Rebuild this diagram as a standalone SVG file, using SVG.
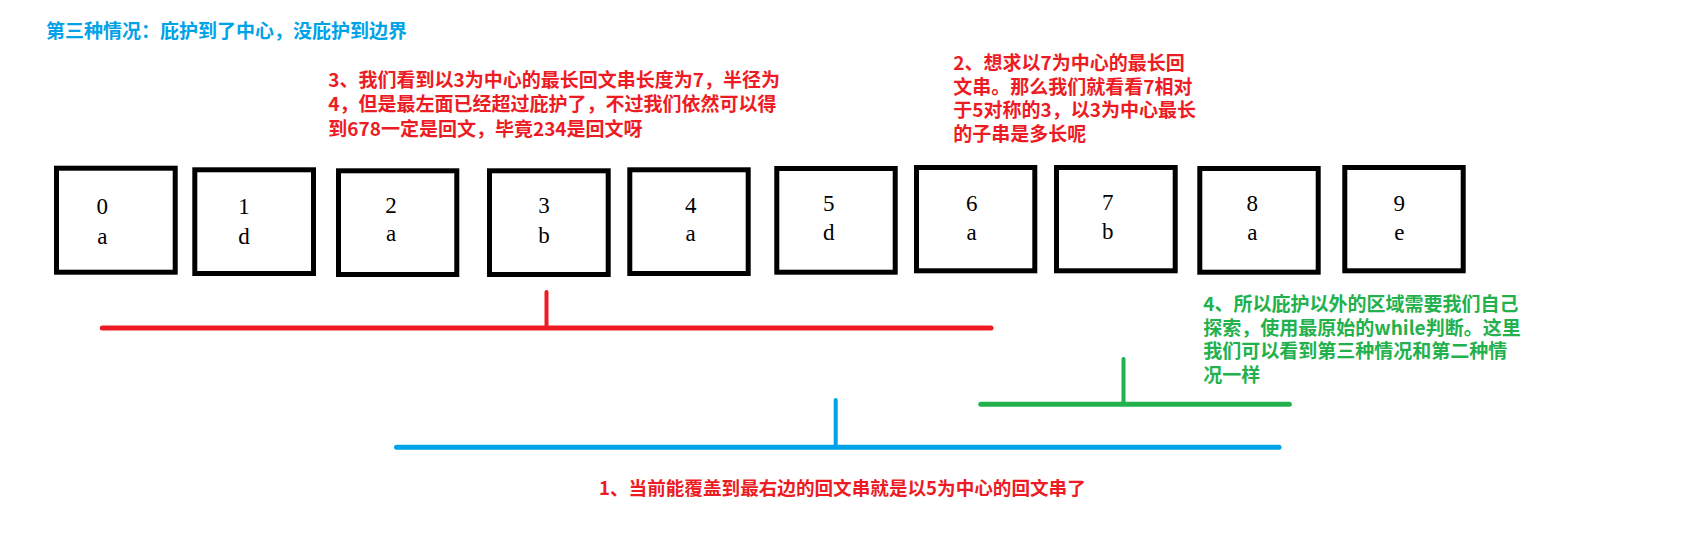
<svg xmlns="http://www.w3.org/2000/svg" width="1699" height="557" viewBox="0 0 1699 557">
<style>
.box{fill:#fff;stroke:#000;stroke-width:5}
.lbl{font-family:"Liberation Serif",serif;font-size:23px;fill:#000;text-anchor:middle}
.cn{font-family:"Noto Sans CJK SC",sans-serif;font-size:19px;font-weight:bold}
.red{fill:#ED1C24}
.blue{fill:#00A2E8}
.green{fill:#22B14C}
.ln{fill:none;stroke-linecap:round}
</style>
<rect width="1699" height="557" fill="#fff"/>
<text class="cn blue" x="46" y="37.5">第三种情况：庇护到了中心，没庇护到边界</text>
<text class="cn red"><tspan x="328.3" y="86.5">3、我们看到以3为中心的最长回文串长度为7，半径为</tspan><tspan x="328.3" y="111">4，但是最左面已经超过庇护了，不过我们依然可以得</tspan><tspan x="328.3" y="135.5">到678一定是回文，毕竟234是回文呀</tspan></text>
<text class="cn red"><tspan x="953.3" y="70">2、想求以7为中心的最长回</tspan><tspan x="953.3" y="93.5">文串。那么我们就看看7相对</tspan><tspan x="953.3" y="117">于5对称的3，以3为中心最长</tspan><tspan x="953.3" y="140.5">的子串是多长呢</tspan></text>
<text class="cn green"><tspan x="1203.3" y="311">4、所以庇护以外的区域需要我们自己</tspan><tspan x="1203.3" y="334.5">探索，使用最原始的while判断。这里</tspan><tspan x="1203.3" y="358">我们可以看到第三种情况和第二种情</tspan><tspan x="1203.3" y="381.5">况一样</tspan></text>
<text class="cn red" x="599" y="495" style="font-size:18.6px">1、当前能覆盖到最右边的回文串就是以5为中心的回文串了</text>
<g id="node0"><rect class="box" x="56.5" y="168.2" width="118.7" height="104"/><text class="lbl" x="102.3" y="214.3">0</text><text class="lbl" x="102.3" y="244.3">a</text></g>
<g id="node1"><rect class="box" x="194.8" y="169.8" width="118.7" height="103.7"/><text class="lbl" x="244" y="214.3">1</text><text class="lbl" x="244" y="243.7">d</text></g>
<g id="node2"><rect class="box" x="338.5" y="170.8" width="118.3" height="103.7"/><text class="lbl" x="391" y="212.7">2</text><text class="lbl" x="391" y="241">a</text></g>
<g id="node3"><rect class="box" x="489.5" y="170.8" width="118.7" height="103.7"/><text class="lbl" x="544" y="213.3">3</text><text class="lbl" x="544" y="243.3">b</text></g>
<g id="node4"><rect class="box" x="629.8" y="169.8" width="118.4" height="103.7"/><text class="lbl" x="690.7" y="212.7">4</text><text class="lbl" x="690.7" y="241">a</text></g>
<g id="node5"><rect class="box" x="776.8" y="168.5" width="118.4" height="103.7"/><text class="lbl" x="828.7" y="211.3">5</text><text class="lbl" x="828.7" y="240">d</text></g>
<g id="node6"><rect class="box" x="916.5" y="167.5" width="118.3" height="103.3"/><text class="lbl" x="971.7" y="211.3">6</text><text class="lbl" x="971.7" y="240">a</text></g>
<g id="node7"><rect class="box" x="1056.5" y="167.5" width="118.7" height="103.3"/><text class="lbl" x="1107.7" y="210">7</text><text class="lbl" x="1107.7" y="239">b</text></g>
<g id="node8"><rect class="box" x="1199.8" y="168.5" width="118.4" height="103.7"/><text class="lbl" x="1252.3" y="211.3">8</text><text class="lbl" x="1252.3" y="240">a</text></g>
<g id="node9"><rect class="box" x="1344.8" y="167.5" width="118.4" height="103.3"/><text class="lbl" x="1399.3" y="211.3">9</text><text class="lbl" x="1399.3" y="240">e</text></g>
<g id="connectors">
<path class="ln" d="M102.3 328H991" stroke="#ED1C24" stroke-width="5"/>
<path class="ln" d="M546.5 292V328" stroke="#ED1C24" stroke-width="4"/>
<path class="ln" d="M980.8 404.3H1289.3" stroke="#22B14C" stroke-width="5"/>
<path class="ln" d="M1123.5 359V404" stroke="#22B14C" stroke-width="4"/>
<path class="ln" d="M396.5 447.3H1279" stroke="#00A2E8" stroke-width="5"/>
<path class="ln" d="M835.7 400V447" stroke="#00A2E8" stroke-width="4"/>
</g>
</svg>
